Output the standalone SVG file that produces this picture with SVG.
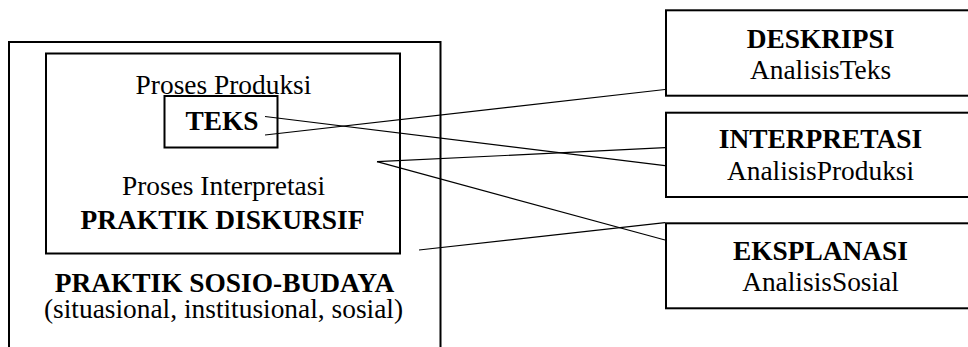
<svg xmlns="http://www.w3.org/2000/svg" width="968" height="347" viewBox="0 0 968 347">
<style>
.box{fill:none;stroke:#000;stroke-width:2}
.conn line{stroke:#000;stroke-width:1.2}
text{font-family:"Liberation Serif","Times New Roman",serif;font-size:27.4px;fill:#000;text-anchor:middle}
.b{font-weight:bold}
</style>
<rect width="968" height="347" fill="#fff"/>
<g id="sosio-budaya">
<path class="box" d="M9,360 V42 H440.5 V360"/>
<text class="b" x="224.5" y="291.5">PRAKTIK SOSIO-BUDAYA</text>
<text x="223.5" y="318">(situasional, institusional, sosial)</text>
</g>
<g id="diskursif">
<rect class="box" x="46" y="53.5" width="354" height="200"/>
<text x="223.5" y="94">Proses Produksi</text>
<text x="223.5" y="195">Proses Interpretasi</text>
<text class="b" x="222.5" y="229">PRAKTIK DISKURSIF</text>
</g>
<g id="teks">
<rect class="box" x="164.5" y="96" width="113" height="51.5" fill="#fff"/>
<text class="b" x="222" y="130">TEKS</text>
</g>
<g id="deskripsi">
<rect class="box" x="666" y="10.3" width="320" height="85.4"/>
<text class="b" x="820.5" y="47.5">DESKRIPSI</text>
<text x="820.5" y="79">AnalisisTeks</text>
</g>
<g id="interpretasi">
<rect class="box" x="666" y="112.7" width="320" height="84.3"/>
<text class="b" x="820.5" y="148">INTERPRETASI</text>
<text x="820.5" y="180">AnalisisProduksi</text>
</g>
<g id="eksplanasi">
<rect class="box" x="666" y="223.3" width="320" height="85"/>
<text class="b" x="820.5" y="260">EKSPLANASI</text>
<text x="820.5" y="291">AnalisisSosial</text>
</g>
<g id="connectors" class="conn">
<line x1="265" y1="116.5" x2="665" y2="165.7"/>
<line x1="265" y1="135" x2="665" y2="89.5"/>
<line x1="377" y1="161.7" x2="665" y2="147.7"/>
<line x1="377" y1="161.7" x2="665" y2="240"/>
<line x1="419" y1="250" x2="665" y2="222.7"/>
</g>
</svg>
